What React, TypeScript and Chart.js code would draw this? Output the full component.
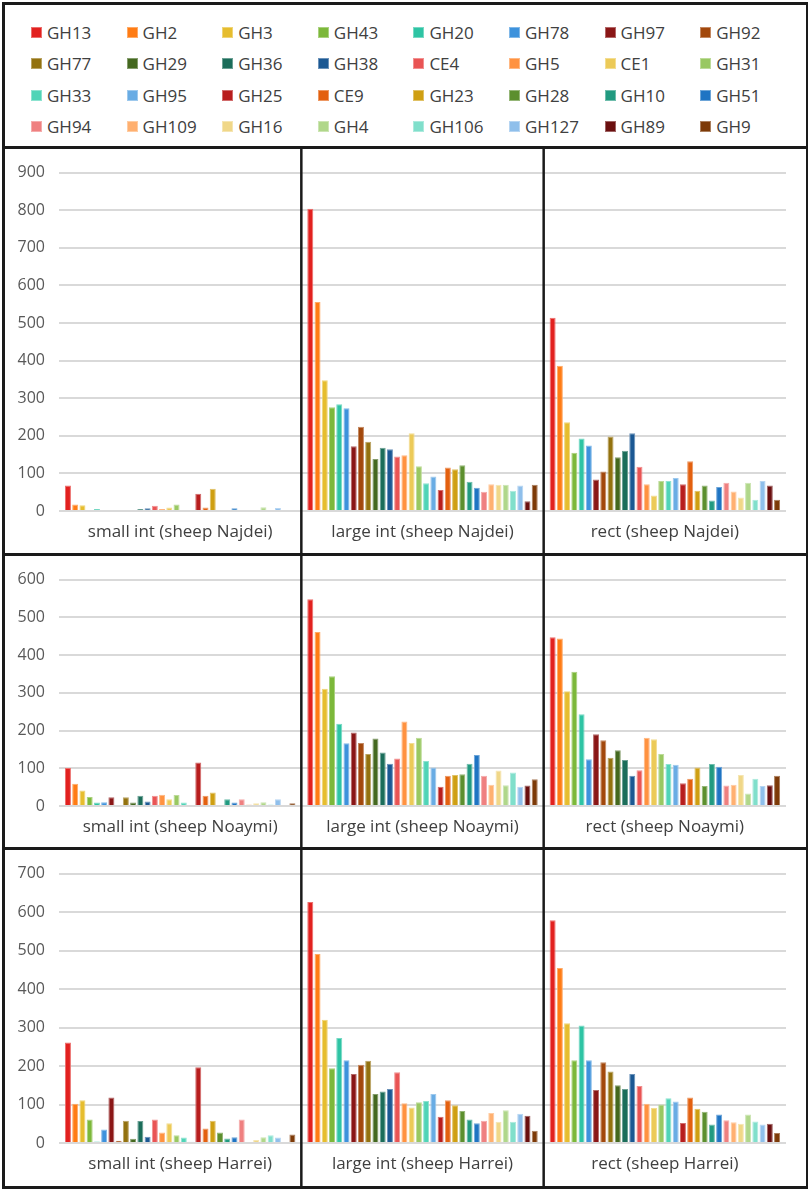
import { useEffect, useRef } from 'react';
import Chart from 'chart.js/auto';

const FONT = '"Open Sans", "DejaVu Sans", sans-serif';

const seriesNames = [
  'GH13', 'GH2', 'GH3', 'GH43', 'GH20', 'GH78', 'GH97', 'GH92',
  'GH77', 'GH29', 'GH36', 'GH38', 'CE4', 'GH5', 'CE1', 'GH31',
  'GH33', 'GH95', 'GH25', 'CE9', 'GH23', 'GH28', 'GH10', 'GH51',
  'GH94', 'GH109', 'GH16', 'GH4', 'GH106', 'GH127', 'GH89', 'GH9',
];

const seriesColors = [
  '#e2211f', '#ff7c14', '#e6bd2e', '#7cb83a', '#2ec4a4', '#3d92dc', '#8a1616', '#a2480c',
  '#93720f', '#44681f', '#1b6d5a', '#1b5893', '#e95454', '#ff9240', '#ecca58', '#99c862',
  '#50d4b7', '#69ace4', '#b81d1d', '#e3600f', '#cf9f12', '#5c8f2e', '#219a80', '#1f74c3',
  '#ef8080', '#ffb070', '#f0d788', '#b0d78a', '#80dfcb', '#8fbfeb', '#6a0f0f', '#7d3a08',
];

const najdeiCategories = ['small int (sheep Najdei)', 'large int (sheep Najdei)', 'rect (sheep Najdei)'];
const noaymiCategories = ['small int (sheep Noaymi)', 'large int (sheep Noaymi)', 'rect (sheep Noaymi)'];
const harreiCategories = ['small int (sheep Harrei)', 'large int (sheep Harrei)', 'rect (sheep Harrei)'];

// one value per series, in seriesNames order
const najdeiSmall = [68, 17, 15, 0, 5, 0, 0, 0, 0, 0, 5, 7, 14, 5, 9, 17, 0, 0, 46, 9, 59, 0, 0, 7, 0, 0, 0, 10, 0, 8, 0, 0];
const najdeiLarge = [804, 556, 348, 276, 284, 273, 172, 224, 184, 138, 168, 164, 145, 148, 207, 119, 74, 92, 56, 116, 111, 122, 78, 62, 51, 71, 70, 70, 54, 68, 26, 70];
const najdeiRect = [514, 386, 236, 155, 193, 174, 84, 105, 198, 143, 160, 207, 118, 71, 41, 80, 80, 88, 71, 132, 54, 68, 28, 64, 75, 52, 36, 75, 30, 80, 68, 30];

const noaymiSmall = [101, 59, 41, 24, 9, 10, 23, 0, 23, 9, 27, 12, 27, 30, 18, 29, 9, 0, 115, 27, 36, 0, 18, 9, 18, 4, 7, 10, 4, 18, 0, 7];
const noaymiLarge = [548, 461, 311, 344, 218, 166, 195, 167, 138, 179, 142, 112, 126, 224, 167, 181, 119, 102, 51, 80, 82, 84, 112, 135, 80, 56, 94, 55, 89, 51, 54, 71];
const noaymiRect = [447, 444, 304, 356, 243, 124, 190, 174, 128, 148, 122, 80, 95, 181, 177, 138, 111, 109, 60, 72, 102, 53, 111, 104, 54, 56, 82, 33, 72, 53, 55, 80];

const harreiSmall = [261, 102, 111, 61, 4, 35, 118, 6, 58, 11, 57, 16, 61, 27, 51, 20, 14, 3, 197, 38, 58, 27, 12, 15, 61, 0, 8, 15, 20, 14, 0, 22];
const harreiLarge = [626, 491, 320, 194, 273, 215, 179, 203, 214, 127, 134, 140, 184, 103, 92, 106, 109, 127, 68, 111, 98, 83, 61, 51, 58, 78, 55, 85, 55, 76, 71, 32];
const harreiRect = [579, 455, 311, 215, 305, 215, 138, 210, 186, 150, 140, 179, 148, 102, 91, 100, 116, 108, 52, 118, 89, 81, 48, 74, 59, 54, 50, 74, 56, 48, 50, 26];

function lighten(hex: string, amount = 0.35) {
  const n = parseInt(hex.slice(1), 16);
  const mix = (c: number) => Math.round(c + (255 - c) * amount);
  const r = mix((n >> 16) & 255);
  const g = mix((n >> 8) & 255);
  const b = mix(n & 255);
  return `rgb(${r},${g},${b})`;
}

// black separators between the three groups, full height of the row
const dividerPlugin = {
  id: 'dividers',
  afterDraw(chart: Chart) {
    const { ctx } = chart;
    const x = chart.scales.x;
    ctx.save();
    ctx.strokeStyle = '#1a1a1a';
    ctx.lineWidth = 2.5;
    for (let i = 1; i < x.ticks.length; i++) {
      const px = (x.getPixelForTick(i - 1) + x.getPixelForTick(i)) / 2;
      ctx.beginPath();
      ctx.moveTo(px, 0);
      ctx.lineTo(px, chart.height);
      ctx.stroke();
    }
    ctx.restore();
  },
};

interface RowProps {
  categories: string[];
  small: number[];
  large: number[];
  rect: number[];
  max: number;
  top: number;
  height: number;
  padTop: number;
  axisHeight: number;
}

function RowChart({ categories, small, large, rect, max, top, height, padTop, axisHeight }: RowProps) {
  const canvasRef = useRef<HTMLCanvasElement>(null);

  useEffect(() => {
    if (!canvasRef.current) return;
    const chart = new Chart(canvasRef.current, {
      type: 'bar',
      data: {
        labels: categories,
        datasets: seriesNames.map((name, i) => ({
          label: name,
          data: [small[i], large[i], rect[i]],
          backgroundColor: seriesColors[i],
          borderColor: lighten(seriesColors[i]),
          borderWidth: 1,
          categoryPercentage: 0.956,
          barPercentage: 0.83,
        })),
      },
      options: {
        animation: false,
        responsive: true,
        maintainAspectRatio: false,
        layout: { padding: { top: padTop, right: 24, left: 0, bottom: 0 } },
        plugins: {
          legend: { display: false },
          tooltip: { enabled: false },
        },
        scales: {
          x: {
            grid: { display: false, drawTicks: false },
            border: { display: false },
            ticks: { color: '#404040', font: { family: FONT, size: 17 }, padding: 11 },
            afterFit: (s: any) => { s.height = axisHeight; },
          },
          y: {
            min: 0,
            max,
            grid: { color: '#d9d9d9', lineWidth: 2, drawTicks: false },
            border: { display: false },
            ticks: { stepSize: 100, color: '#595959', font: { family: FONT, size: 16 }, padding: 14 },
            afterFit: (s: any) => { s.width = 59; },
          },
        },
      },
      plugins: [dividerPlugin],
    });
    return () => chart.destroy();
  }, [categories, small, large, rect, max, padTop, axisHeight]);

  return (
    <div style={{ position: 'absolute', left: 0, top, width: 810, height }}>
      <canvas ref={canvasRef} />
    </div>
  );
}

function Legend() {
  return (
    <>
      {seriesNames.map((name, i) => {
        const col = i % 8;
        const row = Math.floor(i / 8);
        const left = 31 + col * 95.6;
        const cy = 32 + row * 31.5;
        return (
          <div
            key={name}
            style={{ position: 'absolute', left, top: cy - 12, height: 24, display: 'flex', alignItems: 'center' }}
          >
            <span
              style={{
                width: 11, height: 11, boxSizing: 'border-box', marginRight: 5,
                background: seriesColors[i], border: `1px solid ${lighten(seriesColors[i])}`,
              }}
            />
            <span style={{ fontFamily: FONT, fontSize: 17, color: '#404040' }}>{name}</span>
          </div>
        );
      })}
    </>
  );
}

const line = (style: React.CSSProperties) => (
  <div style={{ position: 'absolute', background: '#1a1a1a', zIndex: 2, ...style }} />
);

export default function App() {
  return (
    <div style={{ position: 'absolute', left: 0, top: 0, width: 810, height: 1190, background: '#fff', overflow: 'hidden' }}>
      <Legend />
      <RowChart categories={najdeiCategories} small={najdeiSmall} large={najdeiLarge} rect={najdeiRect}
        max={900} top={149} height={404} padTop={17.7} axisHeight={42} />
      <RowChart categories={noaymiCategories} small={noaymiSmall} large={noaymiLarge} rect={noaymiRect}
        max={600} top={556} height={291} padTop={19.7} axisHeight={41} />
      <RowChart categories={harreiCategories} small={harreiSmall} large={harreiLarge} rect={harreiRect}
        max={700} top={850} height={337} padTop={20} axisHeight={44} />
      {line({ left: 2, top: 2, width: 806, height: 2.5 })}
      {line({ left: 2, top: 1186, width: 806, height: 2.5 })}
      {line({ left: 2, top: 2, width: 2.5, height: 1187 })}
      {line({ left: 805.5, top: 2, width: 2.5, height: 1187 })}
      {line({ left: 2, top: 146, width: 806, height: 2.5 })}
      {line({ left: 2, top: 553, width: 806, height: 2.5 })}
      {line({ left: 2, top: 847, width: 806, height: 2.5 })}
    </div>
  );
}
